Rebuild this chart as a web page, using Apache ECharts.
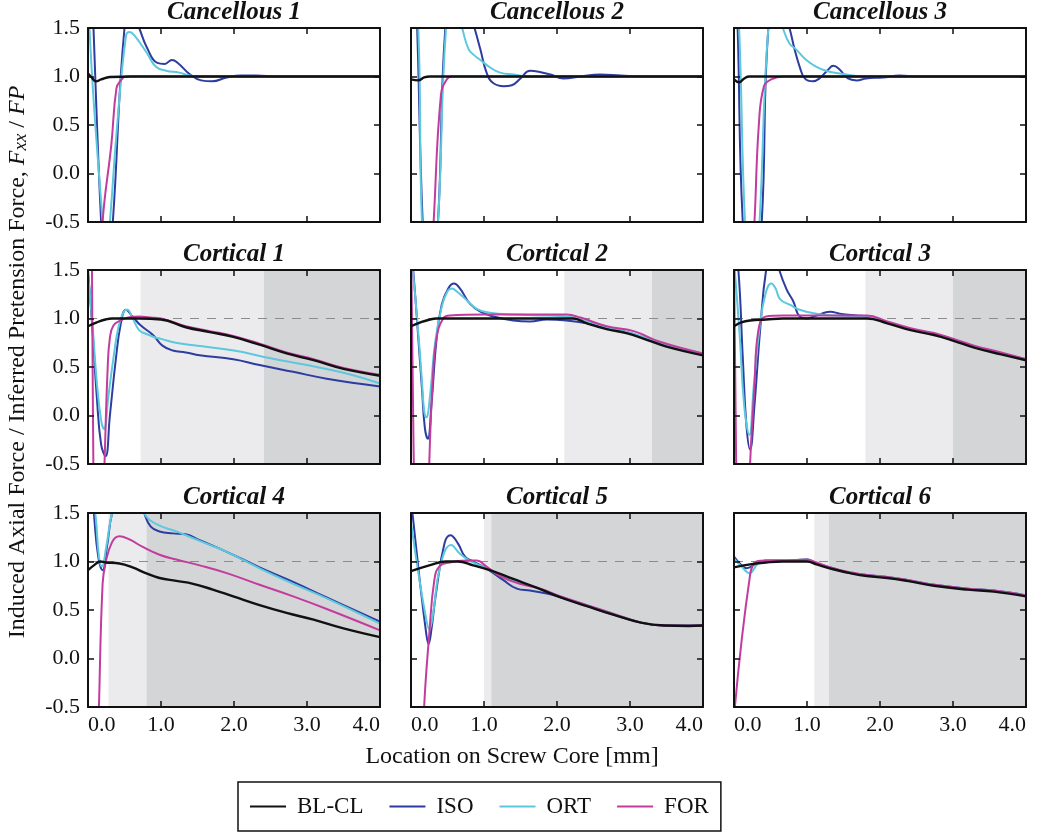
<!DOCTYPE html>
<html>
<head>
<meta charset="utf-8">
<script src="https://cdn.jsdelivr.net/npm/echarts@6.0.0/dist/echarts.min.js"></script>
<style>
html, body { margin: 0; padding: 0; background: #fff; }
#chart { width: 1038px; height: 837px; }
</style>
</head>
<body>
<div id="chart"></div>
<script>
var dom = document.getElementById('chart');
var myChart = echarts.init(dom);

// panel titles and legend names
var titles = ['Cancellous 1', 'Cancellous 2', 'Cancellous 3',
              'Cortical 1', 'Cortical 2', 'Cortical 3',
              'Cortical 4', 'Cortical 5', 'Cortical 6'];
var names = ['BL-CL', 'ISO', 'ORT', 'FOR'];
var xTicks = [0, 1, 2, 3, 4];
var yTicks = [-0.5, 0, 0.5, 1.0, 1.5];

// shaded zones along the screw core [mm] (light grey, dark grey)
var lightZone = [null, null, null, [0.72, 2.41], [2.1, 3.3], [1.8, 3.0], [0.28, 0.8], [1.0, 1.1], [1.1, 1.3]];
var darkZone  = [null, null, null, [2.41, 4.0], [3.3, 4.0], [3.0, 4.0], [0.8, 4.0], [1.1, 4.0], [1.3, 4.0]];

// ---- Cancellous 1
var canc1_bl  = [[0,1.03],[0.05,0.99],[0.11,0.95],[0.18,0.97],[0.3,0.995],[0.6,1.0],[4,1.0]];
var canc1_iso = [[0,3.0],[0.07,1.6],[0.18,-0.5],[0.25,-1.2],[0.34,-0.5],[0.5,1.5],[0.6,1.65],[0.7,1.5],[0.8,1.31],[0.95,1.14],[1.05,1.13],[1.15,1.17],[1.23,1.14],[1.4,1.02],[1.55,0.96],[1.7,0.95],[1.9,0.99],[2.1,1.01],[2.3,1.01],[2.6,1.0],[4,1.0]];
var canc1_ort = [[0,2.2],[0.02,1.5],[0.2,-0.5],[0.25,-0.9],[0.3,-0.5],[0.4,0.5],[0.52,1.42],[0.57,1.46],[0.63,1.43],[0.8,1.25],[0.93,1.1],[1.07,1.06],[1.25,1.04],[1.39,1.01],[1.6,1.0],[4,1.0]];
var canc1_for = [[0,-3],[0.15,-1.5],[0.2,-0.5],[0.32,0.3],[0.39,0.88],[0.45,0.96],[0.52,1.0],[4,1.0]];
// ---- Cancellous 2
var canc2_bl  = [[0,0.97],[0.1,0.96],[0.18,0.99],[0.26,1.0],[4,1.0]];
var canc2_iso = [[0,3.0],[0.08,1.6],[0.16,-0.5],[0.25,-1.5],[0.37,-0.5],[0.47,1.5],[0.6,2.0],[0.75,1.8],[0.87,1.5],[0.95,1.28],[1.04,1.03],[1.13,0.93],[1.27,0.9],[1.38,0.91],[1.5,0.98],[1.63,1.06],[1.75,1.05],[1.91,1.02],[2.09,0.98],[2.32,1.0],[2.59,1.02],[2.87,1.01],[3.2,1.0],[4,1.0]];
var canc2_ort = [[0,2.5],[0.1,1.5],[0.15,-0.5],[0.25,-1.5],[0.37,-0.5],[0.48,1.5],[0.58,1.8],[0.7,1.5],[0.79,1.28],[0.88,1.21],[0.95,1.17],[1.09,1.09],[1.22,1.04],[1.41,1.02],[1.6,1.0],[4,1.0]];
var canc2_for = [[0,-3],[0.2,-2],[0.31,-0.5],[0.41,0.81],[0.49,0.97],[0.56,1.0],[4,1.0]];
// ---- Cancellous 3
var canc3_bl  = [[0,0.97],[0.07,0.94],[0.14,0.98],[0.21,1.0],[4,1.0]];
var canc3_iso = [[0,2.5],[0.05,1.5],[0.12,-0.5],[0.25,-1.5],[0.38,-0.5],[0.47,1.5],[0.6,1.9],[0.76,1.5],[0.83,1.28],[0.9,1.1],[0.97,0.98],[1.08,0.95],[1.17,0.98],[1.29,1.07],[1.36,1.11],[1.45,1.07],[1.56,0.98],[1.68,0.96],[1.81,0.98],[2.04,0.99],[2.27,1.01],[2.5,1.0],[4,1.0]];
var canc3_ort = [[0,2.3],[0.07,1.5],[0.15,-0.5],[0.25,-1.5],[0.35,-0.5],[0.47,1.5],[0.57,1.75],[0.67,1.5],[0.76,1.34],[0.85,1.28],[0.99,1.17],[1.13,1.1],[1.26,1.06],[1.45,1.03],[1.63,1.01],[1.8,1.0],[4,1.0]];
var canc3_for = [[0,-3],[0.18,-1.8],[0.28,-0.5],[0.34,0.5],[0.41,0.9],[0.51,0.97],[0.67,1.0],[4,1.0]];
// ---- Cortical 1
var cort1_bl  = [[0,0.92],[0.12,0.96],[0.24,0.99],[0.33,1.0],[0.7,1.0],[1.0,0.99],[1.34,0.91],[1.67,0.86],[1.99,0.81],[2.35,0.73],[2.72,0.64],[3.09,0.57],[3.5,0.48],[4.0,0.41]];
var cort1_iso = [[0,1.5],[0.06,0.9],[0.12,0.2],[0.18,-0.3],[0.24,-0.42],[0.3,0.0],[0.38,0.57],[0.45,0.95],[0.52,1.09],[0.61,1.02],[0.72,0.93],[0.89,0.83],[1.02,0.72],[1.16,0.67],[1.34,0.65],[1.53,0.62],[1.99,0.58],[2.35,0.52],[2.81,0.45],[3.27,0.38],[4.0,0.3]];
var cort1_ort = [[0,1.45],[0.06,0.95],[0.12,0.35],[0.18,-0.05],[0.22,-0.14],[0.28,0.2],[0.35,0.6],[0.42,0.92],[0.5,1.08],[0.54,1.09],[0.6,1.02],[0.7,0.88],[0.8,0.84],[0.9,0.81],[1.0,0.79],[1.2,0.75],[1.5,0.72],[2.0,0.67],[2.5,0.59],[3.0,0.52],[3.5,0.44],[4.0,0.33]];
var cort1_for = [[0,4],[0.05,2],[0.09,-2],[0.14,-3],[0.2,-1.2],[0.23,-0.4],[0.27,0.5],[0.3,0.8],[0.35,0.93],[0.45,0.98],[0.55,1.01],[0.7,1.02],[0.85,1.01],[1.0,1.0],[1.34,0.92],[1.67,0.87],[1.99,0.82],[2.35,0.74],[2.72,0.65],[3.09,0.58],[3.5,0.49],[4.0,0.42]];
// ---- Cortical 2
var cort2_bl  = [[0,0.92],[0.13,0.96],[0.26,0.99],[0.35,1.0],[2.22,1.0],[2.41,0.95],[2.68,0.89],[2.95,0.85],[3.23,0.78],[3.5,0.71],[4.0,0.62]];
var cort2_iso = [[0,1.7],[0.03,1.5],[0.1,0.8],[0.15,0.28],[0.19,-0.13],[0.23,-0.24],[0.28,0.11],[0.35,0.79],[0.42,1.14],[0.51,1.31],[0.59,1.36],[0.67,1.31],[0.81,1.15],[0.95,1.07],[1.13,1.02],[1.4,0.98],[1.63,0.97],[1.86,0.99],[2.13,0.98],[2.41,0.95],[2.68,0.9],[2.95,0.86],[3.23,0.79],[3.5,0.72],[4.0,0.63]];
var cort2_ort = [[0,1.6],[0.03,1.45],[0.1,0.85],[0.15,0.35],[0.18,0.05],[0.21,-0.02],[0.26,0.2],[0.33,0.75],[0.42,1.12],[0.5,1.28],[0.56,1.31],[0.64,1.27],[0.72,1.22],[0.9,1.1],[1.08,1.06],[1.4,1.04],[1.86,1.03],[2.13,1.02],[2.41,0.97],[2.68,0.91],[2.95,0.86],[3.23,0.8],[3.5,0.73],[4.0,0.64]];
var cort2_for = [[0,1.8],[0.05,-1],[0.12,-3],[0.2,-2],[0.25,-0.5],[0.3,0.4],[0.35,0.8],[0.44,1.0],[0.53,1.03],[1.0,1.04],[1.5,1.04],[2.13,1.04],[2.32,1.01],[2.68,0.92],[3.05,0.87],[3.41,0.76],[4.0,0.64]];
// ---- Cortical 3
var cort3_bl  = [[0,0.92],[0.1,0.96],[0.22,0.98],[0.44,0.99],[0.67,1.0],[1.82,1.0],[2.1,0.95],[2.42,0.88],[2.74,0.83],[3.01,0.77],[3.29,0.7],[3.66,0.63],[4.0,0.57]];
var cort3_iso = [[0,1.8],[0.06,1.5],[0.12,0.6],[0.17,-0.1],[0.22,-0.35],[0.28,0.1],[0.36,0.9],[0.44,1.5],[0.53,1.75],[0.62,1.5],[0.72,1.3],[0.81,1.18],[0.9,1.02],[1.0,1.0],[1.09,1.02],[1.2,1.05],[1.32,1.07],[1.45,1.05],[1.68,1.03],[1.82,1.02],[2.1,0.96],[2.42,0.89],[2.74,0.84],[3.01,0.78],[3.29,0.71],[3.66,0.64],[4.0,0.58]];
var cort3_ort = [[0,1.55],[0.01,1.5],[0.08,0.8],[0.14,0.1],[0.21,-0.2],[0.27,0.3],[0.35,0.9],[0.43,1.25],[0.51,1.36],[0.57,1.31],[0.63,1.2],[0.77,1.14],[0.9,1.09],[1.13,1.05],[1.36,1.03],[1.82,1.02],[2.1,0.96],[2.42,0.89],[2.74,0.84],[3.01,0.78],[3.29,0.71],[3.66,0.64],[4.0,0.58]];
var cort3_for = [[0,1.6],[0.04,-1],[0.1,-3],[0.2,-1],[0.22,-0.5],[0.28,0.3],[0.33,0.86],[0.44,1.02],[0.67,1.03],[1.82,1.03],[2.1,0.97],[2.42,0.9],[2.74,0.85],[3.01,0.79],[3.29,0.72],[3.66,0.65],[4.0,0.58]];
// ---- Cortical 4
var cort4_bl  = [[0,0.91],[0.08,0.96],[0.17,1.0],[0.24,0.99],[0.43,0.98],[0.61,0.94],[0.79,0.88],[0.98,0.83],[1.21,0.8],[1.44,0.77],[1.71,0.71],[1.99,0.64],[2.35,0.55],[2.72,0.47],[3.09,0.4],[3.5,0.31],[4.0,0.22]];
var cort4_iso = [[0,2.2],[0.08,1.5],[0.14,1.05],[0.2,0.91],[0.26,1.15],[0.33,1.5],[0.5,1.9],[0.65,1.8],[0.77,1.5],[0.86,1.36],[0.98,1.31],[1.16,1.29],[1.34,1.28],[1.53,1.22],[1.9,1.1],[2.35,0.94],[2.81,0.79],[3.27,0.63],[4.0,0.38]];
var cort4_ort = [[0,2.0],[0.1,1.5],[0.15,1.05],[0.19,0.95],[0.25,1.15],[0.33,1.5],[0.5,1.9],[0.65,1.75],[0.77,1.5],[0.84,1.43],[0.98,1.37],[1.21,1.31],[1.44,1.24],[1.67,1.17],[1.9,1.1],[2.35,0.93],[2.81,0.77],[3.27,0.62],[4.0,0.36]];
var cort4_for = [[0,-4],[0.1,-2],[0.15,-0.5],[0.2,0.77],[0.24,0.98],[0.33,1.2],[0.43,1.26],[0.56,1.23],[0.75,1.15],[0.98,1.07],[1.21,1.02],[1.53,0.96],[1.9,0.88],[2.35,0.76],[2.81,0.64],[3.27,0.51],[4.0,0.29]];
// ---- Cortical 5
var cort5_bl  = [[0,0.9],[0.25,0.96],[0.48,1.0],[0.64,1.0],[0.85,0.96],[1.08,0.91],[1.4,0.82],[1.72,0.73],[2.05,0.63],[2.41,0.54],[2.78,0.45],[3.15,0.37],[3.47,0.34],[3.8,0.335],[4.0,0.34]];
var cort5_iso = [[0,1.6],[0.02,1.5],[0.11,0.87],[0.21,0.25],[0.24,0.15],[0.28,0.3],[0.34,0.66],[0.46,1.19],[0.54,1.27],[0.64,1.19],[0.74,1.05],[0.85,1.0],[1.03,0.93],[1.26,0.81],[1.45,0.72],[1.63,0.7],[1.86,0.67],[2.05,0.63],[2.41,0.54],[2.78,0.45],[3.15,0.37],[3.47,0.34],[4.0,0.34]];
var cort5_ort = [[0,1.4],[0.11,0.84],[0.21,0.4],[0.25,0.3],[0.3,0.45],[0.4,0.95],[0.55,1.17],[0.67,1.08],[0.8,1.01],[1.03,0.93],[1.31,0.83],[1.59,0.76],[1.86,0.69],[2.05,0.64],[2.41,0.55],[2.78,0.46],[3.15,0.37],[3.47,0.34],[4.0,0.34]];
var cort5_for = [[0,-4],[0.1,-2],[0.18,-0.5],[0.25,0.25],[0.32,0.81],[0.39,0.95],[0.53,0.99],[0.76,1.01],[0.9,1.01],[1.03,0.95],[1.22,0.85],[1.49,0.77],[1.77,0.72],[2.05,0.64],[2.41,0.55],[2.78,0.46],[3.15,0.37],[3.47,0.34],[4.0,0.34]];
// ---- Cortical 6
var cort6_bl  = [[0,0.94],[0.22,0.97],[0.44,0.99],[0.67,1.0],[1.0,1.0],[1.13,0.97],[1.36,0.92],[1.59,0.88],[1.82,0.85],[2.1,0.83],[2.37,0.8],[2.74,0.75],[3.2,0.71],[3.56,0.69],[4.0,0.64]];
var cort6_iso = [[0,1.05],[0.08,0.98],[0.17,0.93],[0.31,0.98],[0.44,1.01],[0.72,1.01],[1.0,1.02],[1.13,0.98],[1.36,0.93],[1.59,0.88],[1.82,0.86],[2.1,0.84],[2.37,0.81],[2.74,0.76],[3.2,0.72],[3.56,0.7],[4.0,0.65]];
var cort6_ort = [[0,1.03],[0.1,0.95],[0.21,0.88],[0.33,0.98],[0.44,1.01],[0.72,1.01],[1.0,1.02],[1.13,0.98],[1.36,0.93],[1.59,0.88],[1.82,0.86],[2.1,0.84],[2.37,0.81],[2.74,0.76],[3.2,0.72],[3.56,0.7],[4.0,0.65]];
var cort6_for = [[0,-0.6],[0.22,0.86],[0.31,1.0],[0.44,1.01],[0.72,1.01],[1.0,1.02],[1.13,0.99],[1.36,0.93],[1.59,0.89],[1.82,0.86],[2.1,0.84],[2.37,0.81],[2.74,0.76],[3.2,0.72],[3.56,0.7],[4.0,0.65]];

var panels = [
    [canc1_bl, canc1_iso, canc1_ort, canc1_for],
    [canc2_bl, canc2_iso, canc2_ort, canc2_for],
    [canc3_bl, canc3_iso, canc3_ort, canc3_for],
    [cort1_bl, cort1_iso, cort1_ort, cort1_for],
    [cort2_bl, cort2_iso, cort2_ort, cort2_for],
    [cort3_bl, cort3_iso, cort3_ort, cort3_for],
    [cort4_bl, cort4_iso, cort4_ort, cort4_for],
    [cort5_bl, cort5_iso, cort5_ort, cort5_for],
    [cort6_bl, cort6_iso, cort6_ort, cort6_for]
];

var colors = ['#111111', '#2d3c9f', '#5cc8de', '#c23c9e'];
var font = 'Liberation Serif';
var colLeft = [88, 411, 734];
var rowTop = [28, 270, 513];
var W = 292, H = 194;

var grids = [], xAxes = [], yAxes = [], series = [], graphics = [];

function fmt(v) { return Number(v).toFixed(1); }

for (var i = 0; i < 9; i++) {
    var r = Math.floor(i / 3), c = i % 3;
    grids.push({ left: colLeft[c], top: rowTop[r], width: W, height: H });

    var frame = { show: true, onZero: false, lineStyle: { color: '#111', width: 2 } };
    var tickLine = { color: '#111', width: 1.5 };

    ['bottom', 'top'].forEach(function (pos) {
        xAxes.push({
            gridIndex: i, type: 'value', position: pos, min: 0, max: 4, z: 10,
            axisLine: frame,
            axisTick: { show: true, inside: true, length: 6, lineStyle: tickLine, customValues: xTicks },
            axisLabel: {
                show: pos === 'bottom' && r === 2, customValues: xTicks, formatter: fmt,
                fontFamily: font, fontSize: 22, color: '#111', margin: 7,
                alignMinLabel: 'left', alignMaxLabel: 'right'
            },
            splitLine: { show: false }
        });
    });
    ['left', 'right'].forEach(function (pos) {
        yAxes.push({
            gridIndex: i, type: 'value', position: pos, min: -0.5, max: 1.5, z: 10,
            axisLine: frame,
            axisTick: { show: true, inside: true, length: 6, lineStyle: tickLine, customValues: yTicks },
            axisLabel: {
                show: pos === 'left' && c === 0, customValues: yTicks, formatter: fmt,
                fontFamily: font, fontSize: 22, color: '#111', margin: 8
            },
            splitLine: { show: false }
        });
    });

    var xi = 2 * i, yi = 2 * i;

    if (lightZone[i]) {
        series.push({
            name: 'zone', type: 'line', xAxisIndex: xi, yAxisIndex: yi, data: [],
            silent: true, z: 1,
            markArea: {
                silent: true,
                data: [
                    [{ xAxis: lightZone[i][0], itemStyle: { color: '#ebebed' } }, { xAxis: lightZone[i][1] }],
                    [{ xAxis: darkZone[i][0], itemStyle: { color: '#d4d5d7' } }, { xAxis: darkZone[i][1] }]
                ]
            }
        });
        series.push({
            name: 'ref', type: 'line', xAxisIndex: xi, yAxisIndex: yi,
            data: [[0, 1], [4, 1]], symbol: 'none', silent: true, z: 2,
            lineStyle: { color: '#8c8c8c', width: 1.2, type: [9, 8] }
        });
    }

    // draw ISO, ORT, FOR first, baseline on top
    [1, 2, 3, 0].forEach(function (k) {
        series.push({
            name: names[k], type: 'line', xAxisIndex: xi, yAxisIndex: yi,
            data: panels[i][k], symbol: 'none', showSymbol: false, smooth: 0.45,
            z: 3, lineStyle: { color: colors[k], width: k === 0 ? 2.4 : 2 }, itemStyle: { color: colors[k] }
        });
    });

    graphics.push({
        type: 'text', x: colLeft[c] + W / 2, y: rowTop[r] - 15,
        style: {
            text: titles[i], fill: '#111', align: 'center', verticalAlign: 'middle',
            font: 'italic bold 25px "Liberation Serif"'
        }
    });
}

graphics.push({
    type: 'text', x: 512, y: 757,
    style: { text: 'Location on Screw Core [mm]', fill: '#111', align: 'center', verticalAlign: 'middle', font: '24px "Liberation Serif"' }
});
graphics.push({
    type: 'text', x: 18, y: 362, rotation: Math.PI / 2,
    style: {
        text: '{a|Induced Axial Force / Inferred Pretension Force, }{i|F}{s|xx}{a| / }{i|FP}',
        align: 'center', verticalAlign: 'middle',
        rich: {
            a: { fontFamily: font, fontSize: 24, fill: '#111' },
            i: { fontFamily: font, fontSize: 24, fontStyle: 'italic', fill: '#111' },
            s: { fontFamily: font, fontSize: 19, fontStyle: 'italic', fill: '#111', padding: [6, 0, 0, 0] }
        }
    }
});

var option = {
    animation: false,
    backgroundColor: '#fff',
    grid: grids,
    xAxis: xAxes,
    yAxis: yAxes,
    legend: {
        data: names, left: 238, top: 782,
        icon: 'rect', itemWidth: 36, itemHeight: 2, itemGap: 26,
        padding: [13, 12, 13, 12],
        borderColor: '#111', borderWidth: 1.5,
        textStyle: { fontFamily: font, fontSize: 23, color: '#111', padding: [0, 0, 0, 6] }
    },
    graphic: graphics,
    series: series
};

if (option && typeof option === 'object') {
    myChart.setOption(option);
}
</script>
</body>
</html>
